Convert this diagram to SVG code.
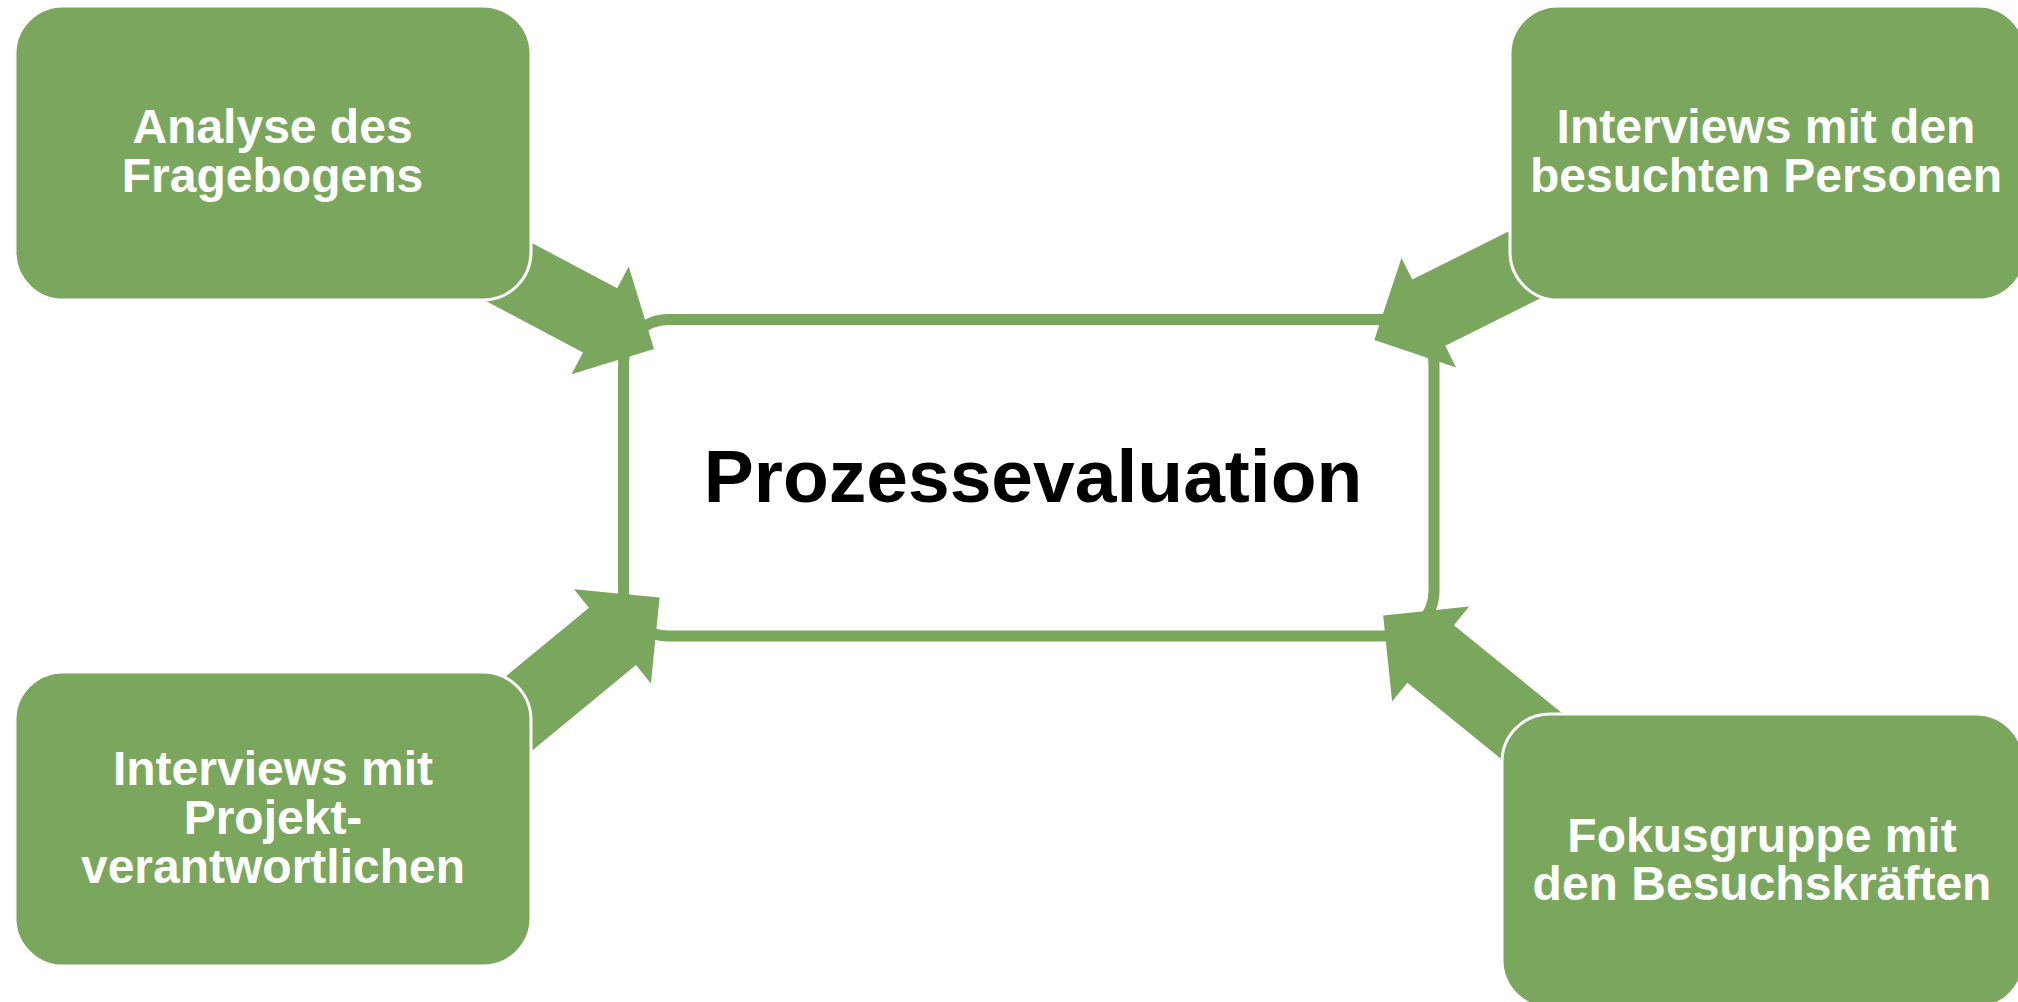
<svg xmlns="http://www.w3.org/2000/svg" width="2018" height="1002" viewBox="0 0 2018 1002">
<style>
.box{fill:#7AA75D;stroke:#FFFFFF;stroke-width:3}
.lbl{font-family:"Liberation Sans",Arial,sans-serif;font-weight:bold;font-size:48px;fill:#FFFFFF;text-anchor:middle}
.arrow{fill:#7AA75D;stroke:none}
.center{fill:#FFFFFF;stroke:#7AA75D;stroke-width:11}
.title{font-family:"Liberation Sans",Arial,sans-serif;font-weight:bold;font-size:75px;fill:#000000;text-anchor:middle}
</style>
<rect width="2018" height="1002" fill="#FFFFFF"/>
<g id="center-node">
<rect class="center" x="623.5" y="319.5" width="810.5" height="316.5" rx="45" ry="45"/>
<text class="title" x="1033" y="502">Prozessevaluation</text>
</g>
<g id="connectors">
<polygon class="arrow" points="396.4,171 617.2,288.3 628.7,266.5 654,349 571.5,374.3 583,352.6 362.2,235.4"/>
<polygon class="arrow" points="1668.8,234.1 1445.3,345.8 1456.1,367.4 1374.3,340 1401.5,258 1412.3,279.6 1635.8,167.9"/>
<polygon class="arrow" points="443,824 636,665 650.9,683.5 659.6,597.6 574,589.3 589,607.8 396,766.8"/>
<polygon class="arrow" points="1648.2,783.1 1453.9,625.3 1469.1,606.6 1383.2,615.5 1392.1,701.4 1407.3,682.7 1601.6,840.5"/>
</g>
<g id="node-analyse">
<rect class="box" x="15" y="6" width="516" height="294" rx="48" ry="48"/>
<text class="lbl" x="272.5" y="143">Analyse des</text>
<text class="lbl" x="272.5" y="192">Fragebogens</text>
</g>
<g id="node-interviews-personen">
<rect class="box" x="1510" y="6" width="516" height="294" rx="48" ry="48"/>
<text class="lbl" x="1766" y="143">Interviews mit den</text>
<text class="lbl" x="1766" y="192">besuchten Personen</text>
</g>
<g id="node-interviews-projekt">
<rect class="box" x="15" y="672" width="516" height="294" rx="48" ry="48"/>
<text class="lbl" x="273" y="785">Interviews mit</text>
<text class="lbl" x="273" y="834">Projekt-</text>
<text class="lbl" x="273" y="883">verantwortlichen</text>
</g>
<g id="node-fokusgruppe">
<rect class="box" x="1502" y="714" width="522" height="294" rx="48" ry="48"/>
<text class="lbl" x="1762" y="852">Fokusgruppe mit</text>
<text class="lbl" x="1762" y="900">den Besuchskräften</text>
</g>
</svg>
